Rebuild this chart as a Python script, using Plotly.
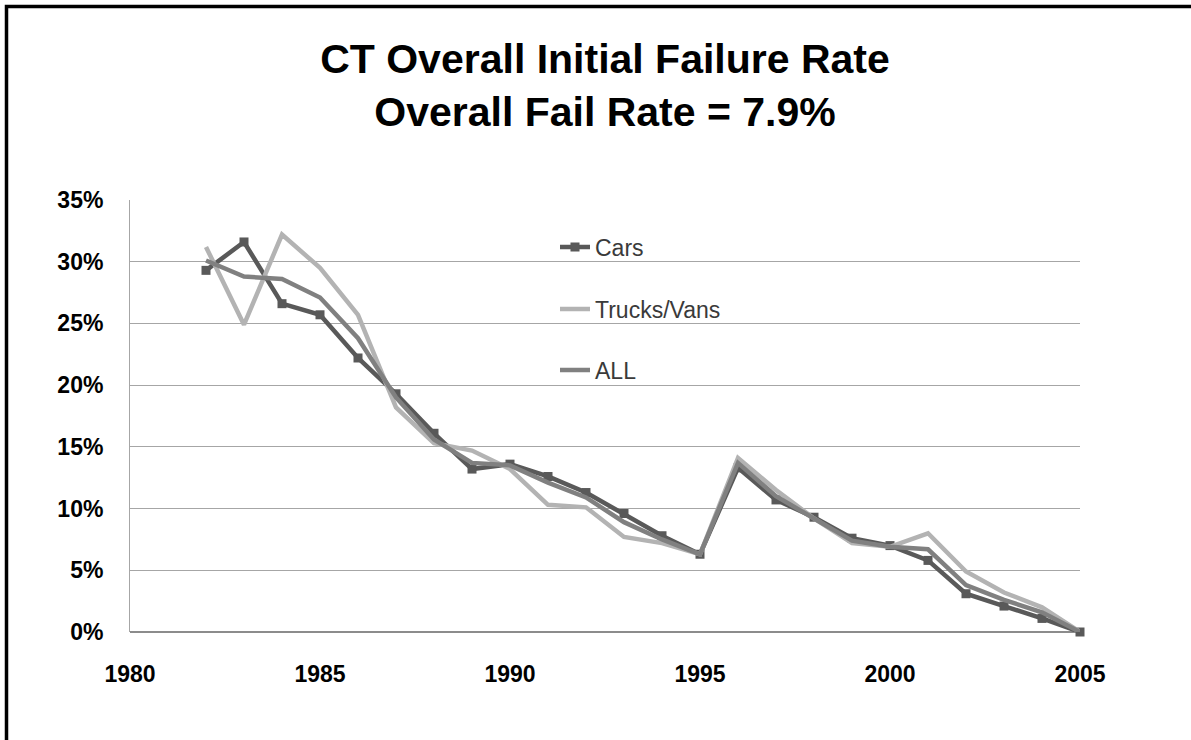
import plotly.graph_objects as go

years = list(range(1982, 2006))
cars = [29.3, 31.6, 26.6, 25.7, 22.2, 19.3, 16.1, 13.2, 13.6, 12.6, 11.3, 9.6,
        7.8, 6.3, 13.3, 10.7, 9.3, 7.6, 7.0, 5.8, 3.1, 2.1, 1.1, 0.0]
trucks = [31.2, 24.9, 32.2, 29.5, 25.7, 18.2, 15.3, 14.7, 13.2, 10.3, 10.1, 7.7,
          7.2, 6.3, 14.1, 11.5, 9.2, 7.2, 6.9, 8.0, 4.9, 3.2, 2.0, 0.0]
all_veh = [30.1, 28.8, 28.6, 27.1, 23.8, 19.0, 15.6, 13.7, 13.5, 12.1, 10.9, 8.9,
           7.5, 6.3, 13.7, 11.0, 9.2, 7.4, 6.9, 6.7, 3.8, 2.6, 1.6, 0.0]

series_names = ["Cars", "Trucks/Vans", "ALL"]
title_lines = ["CT Overall Initial Failure Rate", "Overall Fail Rate = 7.9%"]
x_ticks = [1980, 1985, 1990, 1995, 2000, 2005]

def frac(v):
    return [x / 100 for x in v]

fig = go.Figure()
fig.add_trace(go.Scatter(
    x=years, y=frac(cars), name=series_names[0], mode="lines+markers",
    line=dict(color="#595959", width=4.5),
    marker=dict(symbol="square", size=9, color="#595959"),
    cliponaxis=False, legend="legend"))
fig.add_trace(go.Scatter(
    x=years, y=frac(trucks), name=series_names[1], mode="lines",
    line=dict(color="#b3b3b3", width=4.5),
    cliponaxis=False, legend="legend2"))
fig.add_trace(go.Scatter(
    x=years, y=frac(all_veh), name=series_names[2], mode="lines",
    line=dict(color="#808080", width=4.5),
    cliponaxis=False, legend="legend3"))

leg_common = dict(xanchor="left", yanchor="middle", bgcolor="rgba(0,0,0,0)",
                  font=dict(family="Liberation Sans, Arial", size=23, color="#3a3a3a"))

L, T, W, H = 130, 200, 950, 432

fig.update_layout(
    width=1191, height=740,
    showlegend=True,
    margin=dict(l=L, r=1191 - L - W, t=T, b=740 - T - H),
    paper_bgcolor="white", plot_bgcolor="white",
    title=dict(text="<br>".join(title_lines), x=0.5, xref="paper",
               y=1 - 73 / 740, yanchor="top",
               font=dict(family="Liberation Sans, Arial", size=41, color="black",
                         weight="bold")),
    xaxis=dict(range=[1980, 2005], tickvals=x_ticks, showgrid=False,
               showline=False, zeroline=False, ticks="outside", ticklen=21,
               tickcolor="rgba(0,0,0,0)",
               tickfont=dict(family="Liberation Sans, Arial", size=23,
                             color="black", weight="bold")),
    yaxis=dict(range=[0, 0.35], dtick=0.05, tickformat=".0%",
               showgrid=True, gridcolor="#a6a6a6", gridwidth=1,
               showline=True, linecolor="#a6a6a6", linewidth=1,
               zeroline=True, zerolinecolor="#8c8c8c", zerolinewidth=2,
               ticks="outside", ticklen=21, tickcolor="rgba(0,0,0,0)",
               tickfont=dict(family="Liberation Sans, Arial", size=23,
                             color="black", weight="bold")),
    legend=dict(x=(555 - L) / W, y=(T + H - 247) / H, **leg_common),
    legend2=dict(x=(555 - L) / W, y=(T + H - 309) / H, **leg_common),
    legend3=dict(x=(555 - L) / W, y=(T + H - 370) / H, **leg_common),
    shapes=[dict(type="rect", xref="paper", yref="paper",
                 x0=(6.5 - L) / W, x1=1.3, y0=-0.4, y1=(T + H - 6.5) / H,
                 line=dict(color="black", width=3.5), layer="above")],
)

fig.write_html("out.html",
               config={"displayModeBar": False},
               post_script="document.body.style.margin='0';document.body.style.overflow='hidden';")
